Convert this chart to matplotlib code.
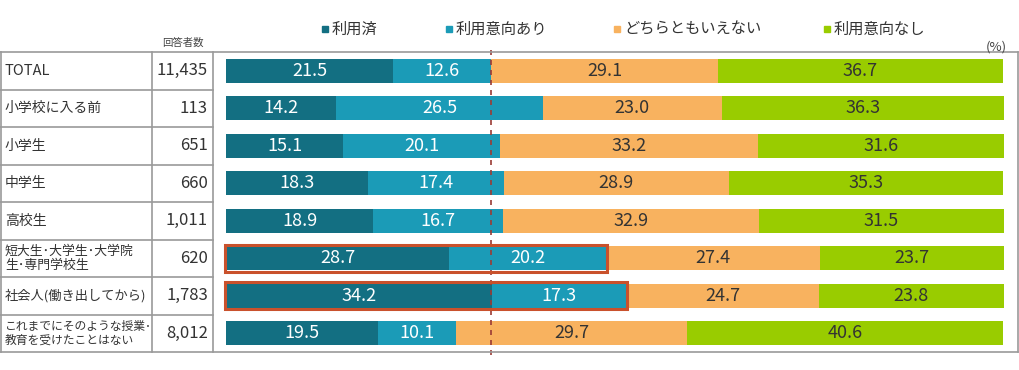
import numpy as np
import matplotlib.pyplot as plt
from matplotlib.patches import Rectangle

plt.rcParams['font.family'] = ['Noto Sans CJK JP', 'DejaVu Sans']

categories = ["TOTAL", "小学校に入る前", "小学生", "中学生", "高校生",
              "短大生･大学生･大学院\n生･専門学校生", "社会人(働き出してから)",
              "これまでにそのような授業･\n教育を受けたことはない"]
counts = ["11,435", "113", "651", "660", "1,011", "620", "1,783", "8,012"]
series = ["利用済", "利用意向あり", "どちらともいえない", "利用意向なし"]
used = [21.5, 14.2, 15.1, 18.3, 18.9, 28.7, 34.2, 19.5]
intend = [12.6, 26.5, 20.1, 17.4, 16.7, 20.2, 17.3, 10.1]
neutral = [29.1, 23.0, 33.2, 28.9, 32.9, 27.4, 24.7, 29.7]
no_intent = [36.7, 36.3, 31.6, 35.3, 31.5, 23.7, 23.8, 40.6]
highlight = [5, 6]

colors = ["#136f82", "#1b9bb7", "#f8b25f", "#99cc00"]
text_colors = ["white", "white", "#333333", "#333333"]
label_sizes = [10.5, 10, 10, 10, 10, 9.3, 9.5, 8.5]

W, H = 1020, 370
fig = plt.figure(figsize=(W / 100, H / 100), dpi=100)


def fx(x):
    return x / W


def fy(y):
    return 1 - y / H


top, bottom = 52, 352
ax = fig.add_axes([fx(226), fy(bottom), fx(1004) - fx(226), fy(top) - fy(bottom)])
n = len(categories)
ax.set_xlim(0, 100)
ax.set_ylim(n - 0.5, -0.5)
ax.axis("off")

values = np.array([used, intend, neutral, no_intent])
y = np.arange(n)
left = np.zeros(n)
for i, vals in enumerate(values):
    ax.barh(y, vals, left=left, height=0.64, color=colors[i], edgecolor="none")
    for j, v in enumerate(vals):
        ax.text(left[j] + v / 2, j, f"{v:.1f}", ha="center", va="center",
                fontsize=13, color=text_colors[i])
    left += vals

# highlight boxes
for j in highlight:
    w = used[j] + intend[j]
    ax.add_patch(Rectangle((-0.1, j - 0.36), w + 0.2, 0.72, fill=False,
                           edgecolor="#c9512c", linewidth=2.2, clip_on=False, zorder=5))

# dashed reference line at TOTAL's positive share
ref = used[0] + intend[0]
ax.plot([ref, ref], [-0.55, n - 0.3], color="#9b3b35", linestyle=(0, (3, 3)),
        linewidth=1.2, clip_on=False, zorder=4)

# table frame
line_kw = dict(color="#9a9a9a", linewidth=1.2, transform=fig.transFigure)
fig.add_artist(plt.Line2D([fx(0), fx(1018)], [fy(top), fy(top)], **line_kw))
fig.add_artist(plt.Line2D([fx(0), fx(1018)], [fy(bottom), fy(bottom)], **line_kw))
fig.add_artist(plt.Line2D([fx(0.5), fx(0.5)], [fy(top), fy(bottom)], **line_kw))
fig.add_artist(plt.Line2D([fx(1018), fx(1018)], [fy(top), fy(bottom)], **line_kw))
for xv in [152, 213]:
    fig.add_artist(plt.Line2D([fx(xv), fx(xv)], [fy(top), fy(bottom)], **line_kw))
row_h = (bottom - top) / n
for k in range(1, n):
    yy = top + k * row_h
    fig.add_artist(plt.Line2D([fx(0), fx(213)], [fy(yy), fy(yy)], **line_kw))

for k, (cat, cnt) in enumerate(zip(categories, counts)):
    yc = top + (k + 0.5) * row_h
    fig.text(fx(5), fy(yc), cat, ha="left", va="center",
             fontsize=label_sizes[k], linespacing=1.15, color="#333333")
    fig.text(fx(208), fy(yc), cnt, ha="right", va="center", fontsize=12, color="#333333")

fig.text(fx(183), fy(43), "回答者数", ha="center", va="center", fontsize=7.5, color="#444444")
fig.text(fx(1007), fy(47), "(%)", ha="right", va="center", fontsize=9.5, color="#444444")

# legend
leg_x = [325, 449, 617, 827]
for i, name in enumerate(series):
    fig.add_artist(Rectangle((fx(leg_x[i] - 3), fy(32)), fx(6), 6 / H,
                             color=colors[i], transform=fig.transFigure))
    fig.text(fx(leg_x[i] + 7), fy(29), name, ha="left", va="center",
             fontsize=11, color="#333333")

fig.savefig("out.png", dpi=100)
